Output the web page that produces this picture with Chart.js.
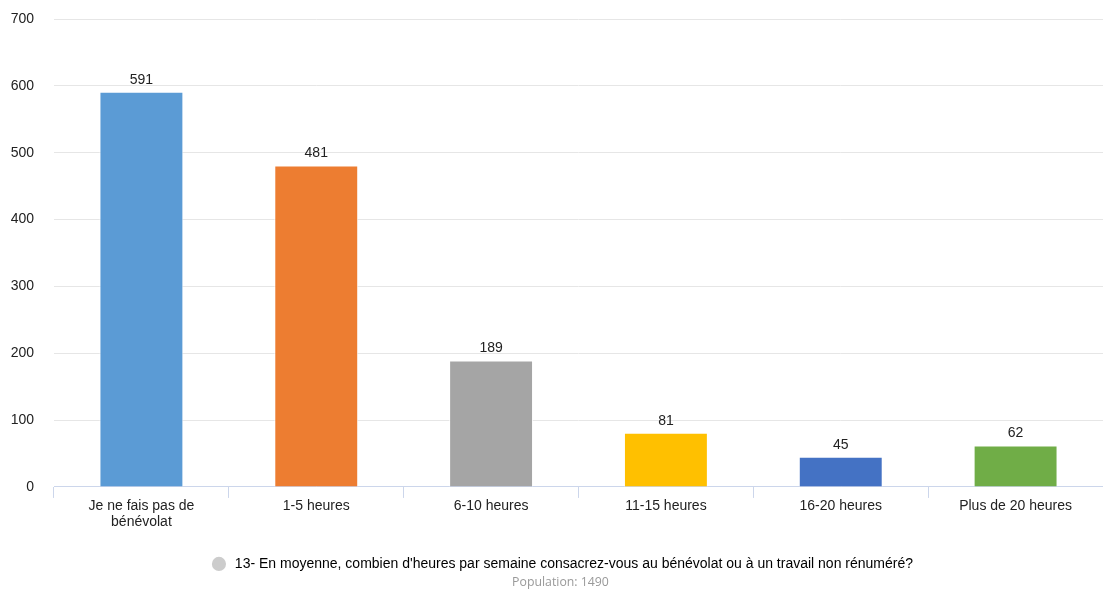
<!DOCTYPE html>
<html>
<head>
<meta charset="utf-8">
<script src="https://cdn.jsdelivr.net/npm/chart.js@4/dist/chart.umd.min.js"></script>
<style>
  html, body { margin: 0; padding: 0; background: #fff; }
  #wrap { width: 1103px; height: 592px; position: relative; }
</style>
</head>
<body>
<div id="wrap"><canvas id="chart"></canvas></div>
<script>
// chart values
const categories = [['Je ne fais pas de', 'bénévolat'], '1-5 heures', '6-10 heures', '11-15 heures', '16-20 heures', 'Plus de 20 heures'];
const counts = [591, 481, 189, 81, 45, 62];
const barColors = ['#5b9bd5', '#ed7d31', '#a5a5a5', '#ffc000', '#4472c4', '#70ad47'];
const seriesName = "13- En moyenne, combien d'heures par semaine consacrez-vous au bénévolat ou à un travail non rénuméré?";
const populationText = 'Population: 1490';

const baseFont = '"Liberation Sans", Arial, sans-serif';

// draws the numbers above each bar
const valueLabels = {
    id: 'valueLabels',
    afterDatasetsDraw(chart) {
        const ctx = chart.ctx;
        const meta = chart.getDatasetMeta(0);
        ctx.save();
        ctx.font = '14px ' + baseFont;
        ctx.fillStyle = '#222';
        ctx.textAlign = 'center';
        ctx.textBaseline = 'bottom';
        meta.data.forEach((bar, i) => {
            ctx.fillText(counts[i], bar.x, bar.y - 5);
        });
        ctx.restore();
    }
};

// legend and population line sit a bit right of centre in the original
const footerShift = {
    id: 'footerShift',
    afterLayout(chart) {
        chart.legend.left += 12;
        chart.legend.right += 12;
        chart.boxes.forEach(box => {
            if (box.options && box.options.text === populationText) {
                box.left += 9;
                box.right += 9;
            }
        });
    }
};

const ctx = document.getElementById('chart').getContext('2d');
let chart = new Chart(ctx, {
    type: 'bar',
    data: {
        labels: categories,
        datasets: [{
            label: seriesName,
            data: counts,
            backgroundColor: barColors,
            borderColor: 'rgba(255,255,255,0.8)',
            borderWidth: 1,
            categoryPercentage: 1,
            barPercentage: 0.48
        }]
    },
    options: {
        responsive: true,
        maintainAspectRatio: false,
        animation: false,
        layout: { padding: { top: 19, right: 0, left: 0, bottom: 8 } },
        scales: {
            x: {
                offset: true,
                afterFit: (scale) => { scale.height = 66; },
                grid: {
                    offset: true,
                    drawOnChartArea: false,
                    drawTicks: true,
                    tickLength: 11,
                    color: '#ccd6eb'
                },
                border: { display: true, color: '#ccd6eb' },
                ticks: {
                    color: '#222',
                    font: { family: baseFont, size: 14, lineHeight: 1.1 },
                    padding: 1,
                    maxRotation: 0
                }
            },
            y: {
                min: 0,
                max: 700,
                afterFit: (scale) => {
                    scale.width = 54;
                    scale.paddingTop = 0;
                    scale.paddingBottom = 0;
                },
                grid: { color: '#e6e6e6', drawTicks: false },
                border: { display: false },
                ticks: {
                    stepSize: 100,
                    color: '#222',
                    padding: 20,
                    font: { family: baseFont, size: 14 }
                }
            }
        },
        plugins: {
            legend: {
                position: 'bottom',
                labels: {
                    usePointStyle: true,
                    pointStyle: 'circle',
                    boxWidth: 10,
                    boxHeight: 10,
                    color: '#222',
                    font: { family: baseFont, size: 14 },
                    padding: 4,
                    generateLabels: () => [{
                        text: ' ' + seriesName,
                        fillStyle: '#cccccc',
                        strokeStyle: '#cccccc',
                        lineWidth: 0,
                        pointStyle: 'circle',
                        hidden: false,
                        datasetIndex: 0
                    }]
                }
            },
            subtitle: {
                display: true,
                position: 'bottom',
                text: populationText,
                color: '#999',
                font: { family: '"Open Sans", sans-serif', size: 12.3, lineHeight: 0.25 },
                padding: { top: 0, bottom: 0 }
            },
            tooltip: { enabled: false }
        }
    },
    plugins: [valueLabels, footerShift]
});
</script>
</body>
</html>
